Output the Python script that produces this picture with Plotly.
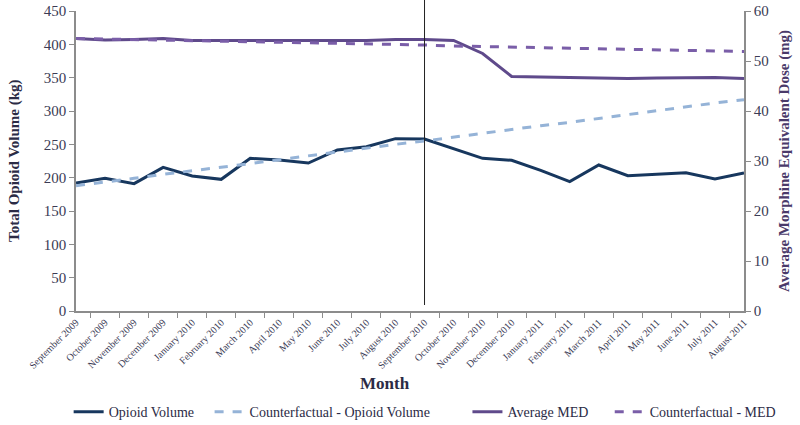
import plotly.graph_objects as go

months = ["September 2009", "October 2009", "November 2009", "December 2009",
          "January 2010", "February 2010", "March 2010", "April 2010", "May 2010",
          "June 2010", "July 2010", "August 2010", "September 2010", "October 2010",
          "November 2010", "December 2010", "January 2011", "February 2011",
          "March 2011", "April 2011", "May 2011", "June 2011", "July 2011", "August 2011"]

opioid_volume = [192, 199, 191, 215.5, 202.5, 197.5, 229, 226.5, 222, 241.5, 246.5, 258.5,
                 258, 244, 229, 226, 211, 194, 219, 203, 205.5, 207.5, 198, 207]
cf_opioid_volume = [188, 193, 199, 205, 210, 216, 221, 227, 233, 238, 244, 250,
                    255, 261, 266, 272, 278, 283, 289, 295, 300, 306, 312, 317]
average_med = [54.5, 54.2, 54.3, 54.5, 54.1, 54.1, 54.1, 54.1, 54.0, 54.1, 54.1, 54.3,
               54.3, 54.1, 51.5, 46.9, 46.8, 46.8, 46.7, 46.5, 46.6, 46.7, 46.7, 46.5]
cf_med = [54.5, 54.4, 54.3, 54.2, 54.0, 53.9, 53.8, 53.7, 53.6, 53.5, 53.4, 53.3,
          53.2, 53.0, 52.9, 52.8, 52.7, 52.6, 52.5, 52.4, 52.3, 52.2, 52.0, 51.9]

left_ticks = [0, 50, 100, 150, 200, 250, 300, 350, 400, 450]
right_ticks = [0, 10, 20, 30, 40, 50, 60]
intervention_month = "September 2010"

FONT = "Liberation Serif"
TXT = "#3b3b55"
TITLE = "#2b2b45"
AXC = "#8c8c8c"

fig = go.Figure()
fig.add_trace(go.Scatter(x=months, y=opioid_volume, name="Opioid Volume", mode="lines",
                         legend="legend", line=dict(color="#17375E", width=3)))
fig.add_trace(go.Scatter(x=months, y=cf_opioid_volume, name="Counterfactual - Opioid Volume",
                         mode="lines", legend="legend2",
                         line=dict(color="#95B3D7", width=3, dash="dash")))
fig.add_trace(go.Scatter(x=months, y=average_med, name="Average MED", mode="lines", yaxis="y2",
                         legend="legend3", line=dict(color="#5F4A8B", width=3)))
fig.add_trace(go.Scatter(x=months, y=cf_med, name="Counterfactual - MED", mode="lines", yaxis="y2",
                         legend="legend4", line=dict(color="#7A5EA8", width=3, dash="dash")))

fig.add_shape(type="line", xref="x", yref="paper", x0=intervention_month, x1=intervention_month,
              y0=0.02, y1=1.037, line=dict(color="#222222", width=1))

annotations = [
    dict(text="<b>Total Opioid Volume (kg)</b>", xref="paper", yref="paper",
         x=-0.093, y=0.5, textangle=-90, showarrow=False, xanchor="center", yanchor="middle",
         font=dict(size=15, color=TITLE)),
    dict(text="<b>Average Morphine Equivalent Dose (mg)</b>", xref="paper", yref="paper",
         x=1.06, y=0.5, textangle=-90, showarrow=False, xanchor="center", yanchor="middle",
         font=dict(size=15, color="#4a3a6a")),
    dict(text="<b>Month</b>", xref="paper", yref="paper", x=0.463, y=-0.24,
         showarrow=False, xanchor="center", yanchor="middle",
         font=dict(size=17, color=TITLE)),
]

def leg(x):
    return dict(orientation="h", x=x, xanchor="left", y=-0.337, yanchor="middle",
                font=dict(family=FONT, size=14, color=TITLE), bgcolor="rgba(0,0,0,0)")

fig.update_layout(
    width=800, height=425,
    margin=dict(l=76, r=56, t=11, b=114, autoexpand=False),
    paper_bgcolor="white", plot_bgcolor="white",
    font=dict(family=FONT, color=TXT, size=13),
    showlegend=True,
    annotations=annotations,
    legend=leg(-0.011), legend2=leg(0.2), legend3=leg(0.586), legend4=leg(0.799),
    xaxis=dict(type="category", tickangle=-45, tickfont=dict(size=10, color=TXT),
               showline=True, linecolor=AXC, linewidth=1.5, ticks="outside", tickcolor=AXC,
               ticklen=5, tickson="boundaries", showgrid=False, zeroline=False,
               automargin=False),
    yaxis=dict(range=[0, 450], tickvals=left_ticks, showline=True, linecolor=AXC, linewidth=1.5,
               ticks="outside", tickcolor=AXC, ticklen=5, showgrid=False, zeroline=False,
               tickfont=dict(size=15, color=TXT), automargin=False),
    yaxis2=dict(range=[0, 60], tickvals=right_ticks, overlaying="y", side="right",
                showline=True, linecolor=AXC, linewidth=1.5, ticks="outside", tickcolor=AXC,
                ticklen=5, showgrid=False, zeroline=False, tickfont=dict(size=15, color=TXT),
                automargin=False),
)

fig.write_html("out.html", config={"displayModeBar": False},
               post_script="document.body.style.margin='0';document.body.style.overflow='hidden';")
